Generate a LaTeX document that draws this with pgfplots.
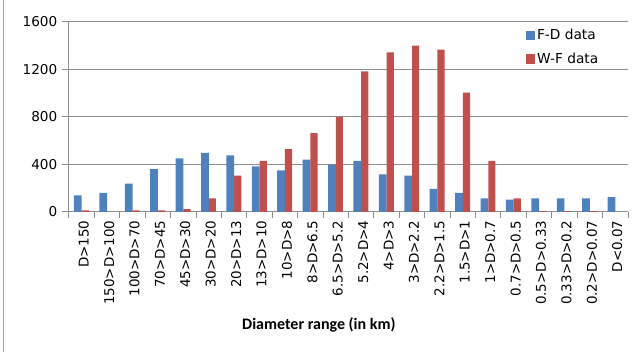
\documentclass[border=0pt]{standalone}
\usepackage{pgfplots}
\pgfplotsset{compat=1.18}
\usepackage{fontspec}
\setmainfont{DejaVu Sans}
\newfontfamily\carlito{Carlito}
\definecolor{fdblue}{HTML}{4F81BD}
\definecolor{wfred}{HTML}{C0504D}
\definecolor{gridgray}{HTML}{8E8E8E}
\definecolor{bordergray}{HTML}{A6A6A6}

\pgfplotstableread{
x fd wf
0 140 13
1 160 0
2 238 13
3 362 13
4 452 25
5 497 115
6 477 306
7 385 430
8 351 530
9 441 665
10 398 800
11 430 1185
12 317 1345
13 306 1400
14 194 1367
15 160 1005
16 115 430
17 104 115
18 115 8
19 115 8
20 115 8
21 126 0
}\datatable

\begin{document}
\begin{tikzpicture}[x=1pt,y=1pt]
\useasboundingbox (-51.75,-105) rectangle (423.75,159);
\draw[bordergray, line width=0.75pt] (-48.75,-105) -- (-48.75,159);
\begin{axis}[
  at={(0,0)}, anchor=south west,
  scale only axis, width=419.25pt, height=142.5pt,
  ymin=0, ymax=1600, ytick={0,400,...,1600},
  xmin=-0.5, xmax=21.5,
  xtick={0,...,21},
  xticklabels={D>150,150>D>100,100>D>70,70>D>45,45>D>30,30>D>20,20>D>13,13>D>10,10>D>8,8>D>6.5,6.5>D>5.2,5.2>D>4,4>D>3,3>D>2.2,2.2>D>1.5,1.5>D>1,1>D>0.7,0.7>D>0.5,0.5>D>0.33,0.33>D>0.2,0.2>D>0.07,D<0.07},
  minor xtick={-0.5,0.5,...,21.5},
  axis x line*=bottom,
  axis y line*=left,
  axis line style={gridgray, line width=0.75pt},
  ymajorgrids,
  grid style={gridgray, line width=0.75pt},
  tick align=outside,
  major tick length=5.25pt,
  minor tick length=4.5pt,
  major x tick style={draw=none},
  minor x tick style={gridgray, line width=0.75pt},
  ytick style={gridgray, line width=0.75pt},
  x tick label style={rotate=90, anchor=east, font=\fontsize{10.1}{12}\selectfont, inner sep=1pt, yshift=-1.5pt},
  y tick label style={font=\fontsize{10.2}{12}\selectfont},
  /pgf/number format/assume math mode=true,
  /pgf/number format/1000 sep={},
  xlabel={\carlito\bfseries\fontsize{12}{14}\selectfont Diameter range (in km)},
  xlabel style={at={(axis description cs:0.447,-0.595)}, anchor=center},
  legend style={at={(rel axis cs:0.817,0.975)}, anchor=north west, draw=none, fill=none,
    font=\fontsize{10.3}{12}\selectfont, row sep=5.5pt, inner sep=0pt, nodes={inner sep=1.5pt, xshift=2pt}},
  legend cell align=left,
  legend image code/.code={\fill[#1] (-2pt,-3.4pt) rectangle (4.8pt,3.4pt);},
  clip=false,
]
\addplot[ybar, bar width=5.8pt, bar shift=-2.9pt, fill=fdblue, draw=none] table[x=x, y=fd] {\datatable};
\addlegendentry{F-D data}
\addplot[ybar, bar width=5.4pt, bar shift=2.7pt, fill=wfred, draw=none] table[x=x, y=wf] {\datatable};
\addlegendentry{W-F data}
\end{axis}
\end{tikzpicture}
\end{document}
